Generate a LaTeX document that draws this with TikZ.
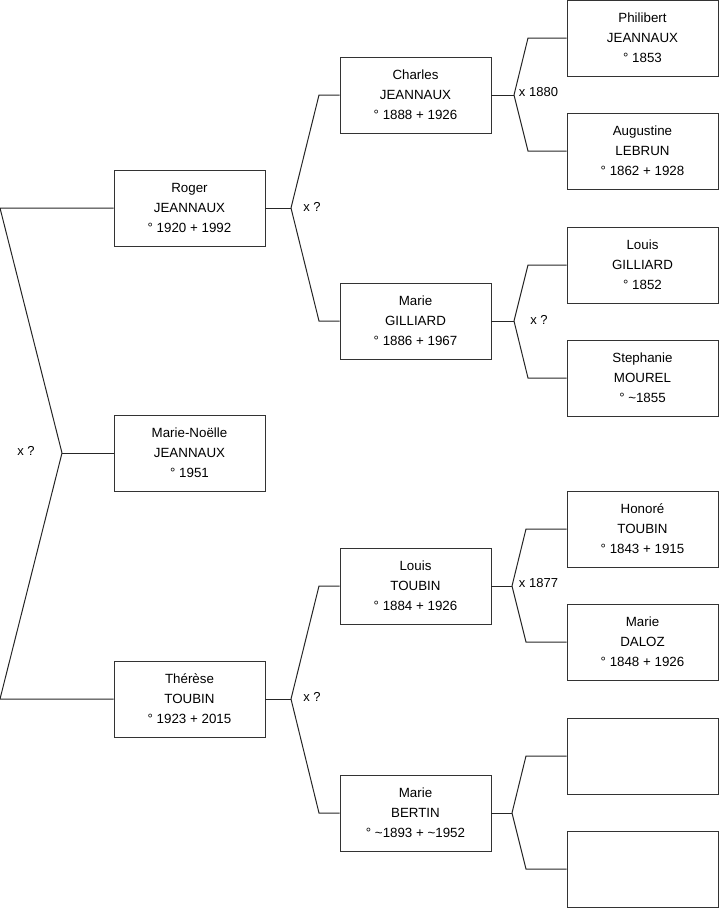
\documentclass[tikz,border=0pt]{standalone}
\usepackage{fontspec}
\setmainfont{Liberation Sans}
\usetikzlibrary{positioning}
\definecolor{frame}{HTML}{333333}
\tikzset{
  person/.style={draw=frame, rectangle, minimum width=113.25pt, minimum height=57pt,
    inner sep=0pt, align=center, font=\fontsize{10}{15}\selectfont},
  union/.style={font=\fontsize{9.75}{12}\selectfont, inner sep=0pt},
  link/.style={draw=black!85, line width=0.75pt}
}
\begin{document}
\begin{tikzpicture}[x=0.75pt, y=-0.75pt]
  \useasboundingbox (0,0) rectangle (719,908);

  % Generation 1
  \node[person] (mn) at (189.5,453) {Marie-No\"elle\\JEANNAUX\\\textdegree\ 1951};

  % Generation 2
  \node[person] (roger) at (189.5,208) {Roger\\JEANNAUX\\\textdegree\ 1920 + 1992};
  \node[person] (therese) at (189.5,699) {Th\'er\`ese\\TOUBIN\\\textdegree\ 1923 + 2015};

  % Generation 3
  \node[person] (charles) at (415.5,95) {Charles\\JEANNAUX\\\textdegree\ 1888 + 1926};
  \node[person] (mgilliard) at (415.5,321) {Marie\\GILLIARD\\\textdegree\ 1886 + 1967};
  \node[person] (ltoubin) at (415.5,586) {Louis\\TOUBIN\\\textdegree\ 1884 + 1926};
  \node[person] (mbertin) at (415.5,813) {Marie\\BERTIN\\\textdegree\ \textasciitilde1893 + \textasciitilde1952};

  % Generation 4
  \node[person] (philibert) at (642.5,38) {Philibert\\JEANNAUX\\\textdegree\ 1853};
  \node[person] (augustine) at (642.5,151) {Augustine\\LEBRUN\\\textdegree\ 1862 + 1928};
  \node[person] (lgilliard) at (642.5,265) {Louis\\GILLIARD\\\textdegree\ 1852};
  \node[person] (stephanie) at (642.5,378) {Stephanie\\MOUREL\\\textdegree\ \textasciitilde1855};
  \node[person] (honore) at (642.5,529) {Honor\'e\\TOUBIN\\\textdegree\ 1843 + 1915};
  \node[person] (mdaloz) at (642.5,642) {Marie\\DALOZ\\\textdegree\ 1848 + 1926};
  \node[person] (unk1) at (642.5,756) {};
  \node[person] (unk2) at (642.5,869) {};

  % Junctions
  \coordinate (j0) at (62,453);
  \coordinate (j0a) at (0,208);
  \coordinate (j0b) at (0,699);
  \coordinate (j1) at (291,208);
  \coordinate (j1a) at (319,95);
  \coordinate (j1b) at (319,321);
  \coordinate (j2) at (291,699);
  \coordinate (j2a) at (319,586);
  \coordinate (j2b) at (319,813);
  \coordinate (j3) at (514,95);
  \coordinate (j3a) at (528,38);
  \coordinate (j3b) at (528,151);
  \coordinate (j4) at (514,321);
  \coordinate (j4a) at (528,265);
  \coordinate (j4b) at (528,378);
  \coordinate (j5) at (512,586);
  \coordinate (j5a) at (526,529);
  \coordinate (j5b) at (526,642);
  \coordinate (j6) at (512,813);
  \coordinate (j6a) at (526,756);
  \coordinate (j6b) at (526,869);

  % Links
  \draw[link] (mn.west) -- (j0);
  \draw[link] (j0) -- (j0a) -- (roger.west);
  \draw[link] (j0) -- (j0b) -- (therese.west);

  \draw[link] (roger.east) -- (j1);
  \draw[link] (j1) -- (j1a) -- (charles.west);
  \draw[link] (j1) -- (j1b) -- (mgilliard.west);

  \draw[link] (therese.east) -- (j2);
  \draw[link] (j2) -- (j2a) -- (ltoubin.west);
  \draw[link] (j2) -- (j2b) -- (mbertin.west);

  \draw[link] (charles.east) -- (j3);
  \draw[link] (j3) -- (j3a) -- (philibert.west);
  \draw[link] (j3) -- (j3b) -- (augustine.west);

  \draw[link] (mgilliard.east) -- (j4);
  \draw[link] (j4) -- (j4a) -- (lgilliard.west);
  \draw[link] (j4) -- (j4b) -- (stephanie.west);

  \draw[link] (ltoubin.east) -- (j5);
  \draw[link] (j5) -- (j5a) -- (honore.west);
  \draw[link] (j5) -- (j5b) -- (mdaloz.west);

  \draw[link] (mbertin.east) -- (j6);
  \draw[link] (j6) -- (j6a) -- (unk1.west);
  \draw[link] (j6) -- (j6b) -- (unk2.west);

  % Marriages
  \node[union] (m0) at (26,451) {x ?};
  \node[union] (m1) at (312,207) {x ?};
  \node[union] (m2) at (312,697) {x ?};
  \node[union] (m3) at (538.5,92) {x 1880};
  \node[union] (m4) at (539,320) {x ?};
  \node[union] (m5) at (538.5,583) {x 1877};
\end{tikzpicture}
\end{document}
